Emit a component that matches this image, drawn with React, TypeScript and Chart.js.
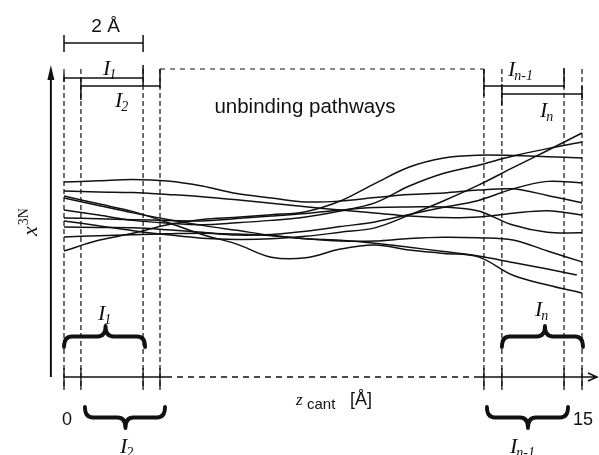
import React, { useEffect, useRef } from "react";
import { Chart, registerables } from "chart.js";

Chart.register(...registerables);

// z_cant grid (Å) on which each pathway is sampled
const Z_GRID = [0, 1, 2, 3, 4, 5, 6, 7, 8, 9, 10, 11, 12, 13, 14, 15];
// interval boundaries (Å): I1 = [0, 2.29], I2 = [0.49, 2.78], I(n-1) = [12.16, 14.48], In = [12.68, 15]
const Z_BOUNDS = [0, 0.49, 2.29, 2.78, 12.16, 12.68, 14.48, 15];
const X_TICKS = ["0", "15"];

// unbinding pathways, x^{3N} (arbitrary units, 0..100)
const PATH_1 = [62.5, 62.9, 63.3, 62.8, 61.2, 58.8, 57.4, 56.1, 56.4, 57.5, 58.5, 59.0, 59.9, 60.3, 58.2, 55.8];
const PATH_2 = [59.6, 59.3, 59.1, 58.5, 57.8, 56.8, 55.7, 54.6, 53.5, 52.6, 51.6, 51.1, 51.3, 52.5, 53.3, 51.9];
const PATH_3 = [58.0, 55.5, 53.0, 49.5, 45.7, 42.6, 38.4, 38.2, 41.0, 42.3, 40.7, 39.6, 38.5, 32.6, 29.5, 26.9];
const PATH_4 = [57.4, 55.0, 52.6, 50.5, 48.6, 47.0, 45.4, 44.3, 43.6, 43.6, 44.4, 44.8, 44.6, 43.9, 40.4, 36.9];
const PATH_5 = [53.5, 51.9, 50.2, 49.3, 48.8, 49.4, 50.2, 51.3, 53.2, 55.8, 61.2, 65.3, 67.9, 70.8, 73.2, 75.3];
const PATH_6 = [51.0, 50.7, 50.4, 50.2, 50.0, 50.8, 51.6, 52.4, 53.5, 54.3, 54.5, 54.5, 53.2, 48.7, 46.4, 46.2];
const PATH_7 = [50.0, 48.5, 46.9, 45.6, 44.5, 44.1, 44.3, 45.1, 46.4, 47.8, 51.9, 56.5, 61.5, 67.1, 72.6, 78.2];
const PATH_8 = [48.1, 47.9, 47.8, 47.2, 46.4, 45.5, 45.7, 46.7, 48.2, 49.7, 52.1, 54.4, 56.6, 60.3, 62.7, 62.2];
const PATH_9 = [44.9, 45.3, 45.6, 45.9, 46.1, 45.8, 45.3, 44.3, 43.8, 42.9, 41.6, 40.2, 38.8, 36.7, 34.6, 32.7];
const PATH_10 = [40.4, 43.8, 46.1, 48.8, 50.5, 51.2, 52.0, 53.0, 56.4, 62.0, 67.3, 70.2, 71.1, 71.0, 70.6, 70.2];
const PATH_9_END = 14.85;

const PATHS = [PATH_1, PATH_2, PATH_3, PATH_4, PATH_5, PATH_6, PATH_7, PATH_8, PATH_9, PATH_10];

const SANS = '"Liberation Sans", Arial, sans-serif';
const SERIF = '"Liberation Serif", "Times New Roman", serif';

function drawI(ctx: CanvasRenderingContext2D, x: number, y: number, sub: string) {
  ctx.font = `italic 22px ${SERIF}`;
  ctx.textAlign = "left";
  ctx.textBaseline = "alphabetic";
  ctx.fillText("I", x, y);
  const w = ctx.measureText("I").width;
  ctx.font = `italic 14px ${SERIF}`;
  ctx.fillText(sub, x + w - 1, y + 4);
}

function drawBrace(ctx: CanvasRenderingContext2D, x1: number, x2: number, tipX: number, yEnd: number, yTip: number) {
  const yMid = (yEnd + yTip) / 2;
  const r = 8;
  ctx.beginPath();
  ctx.moveTo(x1, yEnd);
  ctx.quadraticCurveTo(x1, yMid, x1 + r, yMid);
  ctx.lineTo(tipX - r, yMid);
  ctx.quadraticCurveTo(tipX, yMid, tipX, yTip);
  ctx.quadraticCurveTo(tipX, yMid, tipX + r, yMid);
  ctx.lineTo(x2 - r, yMid);
  ctx.quadraticCurveTo(x2, yMid, x2, yEnd);
  ctx.stroke();
}

function bar(ctx: CanvasRenderingContext2D, xa: number, xb: number, y: number, capA: [number, number], capB: [number, number]) {
  ctx.beginPath();
  ctx.moveTo(xa, y);
  ctx.lineTo(xb, y);
  ctx.moveTo(xa, capA[0]);
  ctx.lineTo(xa, capA[1]);
  ctx.moveTo(xb, capB[0]);
  ctx.lineTo(xb, capB[1]);
  ctx.stroke();
}

const decor = {
  id: "decor",
  beforeDatasetsDraw(chart: any) {
    const ctx: CanvasRenderingContext2D = chart.ctx;
    const xs = chart.scales.x;
    const ys = chart.scales.y;
    const X = (z: number) => xs.getPixelForValue(z);
    const axisY = ys.getPixelForValue(0);
    const topY = ys.getPixelForValue(100);
    const B = Z_BOUNDS.map(X);
    ctx.save();
    ctx.strokeStyle = "#111";
    ctx.fillStyle = "#111";

    // dashed vertical interval boundaries
    ctx.lineWidth = 1.2;
    ctx.setLineDash([5, 3]);
    B.forEach((bx) => {
      ctx.beginPath();
      ctx.moveTo(bx, 69);
      ctx.lineTo(bx, axisY + 13);
      ctx.stroke();
    });
    // top dashed horizontal
    ctx.lineWidth = 1;
    ctx.setLineDash([5, 5]);
    ctx.beginPath();
    ctx.moveTo(B[3], 69);
    ctx.lineTo(B[4], 69);
    ctx.stroke();
    // dashed middle of x axis
    ctx.lineWidth = 1.3;
    ctx.setLineDash([6, 5]);
    ctx.beginPath();
    ctx.moveTo(B[3] + 6, axisY);
    ctx.lineTo(B[4] - 6, axisY);
    ctx.stroke();
    ctx.setLineDash([]);

    // solid x axis parts + arrow
    ctx.lineWidth = 1.5;
    ctx.beginPath();
    ctx.moveTo(B[0], axisY);
    ctx.lineTo(B[3] + 6, axisY);
    ctx.moveTo(B[4] - 6, axisY);
    ctx.lineTo(597, axisY);
    ctx.moveTo(588, axisY - 4);
    ctx.lineTo(597, axisY);
    ctx.lineTo(588, axisY + 4);
    ctx.stroke();
    // ticks
    ctx.lineWidth = 1.3;
    B.forEach((bx) => {
      ctx.beginPath();
      ctx.moveTo(bx, axisY - 9);
      ctx.lineTo(bx, axisY + 12);
      ctx.stroke();
    });

    // y axis arrow
    const yx = X(-0.38);
    ctx.lineWidth = 2;
    ctx.beginPath();
    ctx.moveTo(yx, axisY);
    ctx.lineTo(yx, topY + 10);
    ctx.stroke();
    ctx.beginPath();
    ctx.moveTo(yx, topY);
    ctx.lineTo(yx - 3.5, topY + 15);
    ctx.lineTo(yx + 3.5, topY + 15);
    ctx.closePath();
    ctx.fill();

    // scale bar 2 Å and interval bars
    ctx.lineWidth = 1.5;
    bar(ctx, B[0], B[2], 43, [35, 52], [35, 52]);
    bar(ctx, B[0], B[2], 78, [74, 82], [65, 86]);
    bar(ctx, B[1], B[3], 86, [78, 100], [69, 88]);
    bar(ctx, B[4], B[6], 86, [69, 96], [68, 88]);
    bar(ctx, B[5], B[7], 94, [84, 105], [86, 100]);

    // braces
    ctx.lineWidth = 3.8;
    ctx.lineCap = "round";
    ctx.lineJoin = "round";
    drawBrace(ctx, B[0], B[2] + 2, (B[0] + B[2]) / 2 + 2, 347, 326);
    drawBrace(ctx, B[5], B[7] + 1, (B[5] + B[7]) / 2 + 3, 347, 326);
    drawBrace(ctx, B[1] + 4, B[3] + 5, (B[1] + B[3]) / 2 + 5, 407, 428);
    drawBrace(ctx, B[4] + 3, B[6] + 4, (B[4] + B[6]) / 2 + 4, 407, 428);

    // texts
    ctx.textBaseline = "alphabetic";
    ctx.textAlign = "center";
    ctx.font = `19px ${SANS}`;
    ctx.fillText("2 Å", (B[0] + B[2]) / 2 + 2, 32);
    ctx.font = `20.5px ${SANS}`;
    ctx.fillText("unbinding pathways", 305, 113);
    ctx.font = `18px ${SANS}`;
    ctx.fillText(X_TICKS[0], B[0] + 3, 425);
    ctx.fillText(X_TICKS[1], B[7] + 1, 425);

    drawI(ctx, 103, 75, "1");
    drawI(ctx, 115, 107, "2");
    drawI(ctx, 508, 76, "n-1");
    drawI(ctx, 540, 117, "n");
    drawI(ctx, 98, 320, "1");
    drawI(ctx, 535, 316, "n");
    drawI(ctx, 120, 453, "2");
    drawI(ctx, 510, 453, "n-1");

    // x-axis title
    ctx.textAlign = "left";
    ctx.font = `italic 17px ${SERIF}`;
    ctx.fillText("z", 296, 405);
    ctx.font = `15px ${SANS}`;
    ctx.fillText("cant", 307, 409);
    ctx.font = `18px ${SANS}`;
    ctx.fillText("[Å]", 350, 405);

    // y-axis title x^{3N}
    ctx.save();
    ctx.translate(37, 236);
    ctx.rotate(-Math.PI / 2);
    ctx.font = `italic 22px ${SERIF}`;
    ctx.fillText("x", 0, 0);
    const xw = ctx.measureText("x").width;
    ctx.font = `14px ${SERIF}`;
    ctx.fillText("3N", xw + 1, -9);
    ctx.restore();

    ctx.restore();
  },
};

export default function App() {
  const ref = useRef<HTMLCanvasElement | null>(null);
  useEffect(() => {
    if (!ref.current) return;
    const datasets = PATHS.map((p, i) => ({
      label: `pathway ${i + 1}`,
      data: p.map((v, k) => ({
        x: p === PATH_9 && k === Z_GRID.length - 1 ? PATH_9_END : Z_GRID[k],
        y: v,
      })),
      borderColor: "#111",
      borderWidth: 1.5,
      pointRadius: 0,
      tension: 0.35,
      fill: false,
      clip: false as any,
    }));
    const chart = new Chart(ref.current, {
      type: "line",
      data: { datasets },
      options: {
        animation: false,
        responsive: false,
        devicePixelRatio: 1,
        layout: { padding: { left: 64, right: 17, top: 65, bottom: 78 } },
        plugins: { legend: { display: false }, tooltip: { enabled: false } },
        scales: {
          x: { type: "linear", min: 0, max: 15, display: false },
          y: { min: 0, max: 100, display: false },
        },
      },
      plugins: [decor],
    });
    return () => chart.destroy();
  }, []);
  return (
    <div style={{ position: "fixed", left: 0, top: 0, width: 599, height: 455, background: "#fff" }}>
      <canvas ref={ref} width={599} height={455} />
    </div>
  );
}
